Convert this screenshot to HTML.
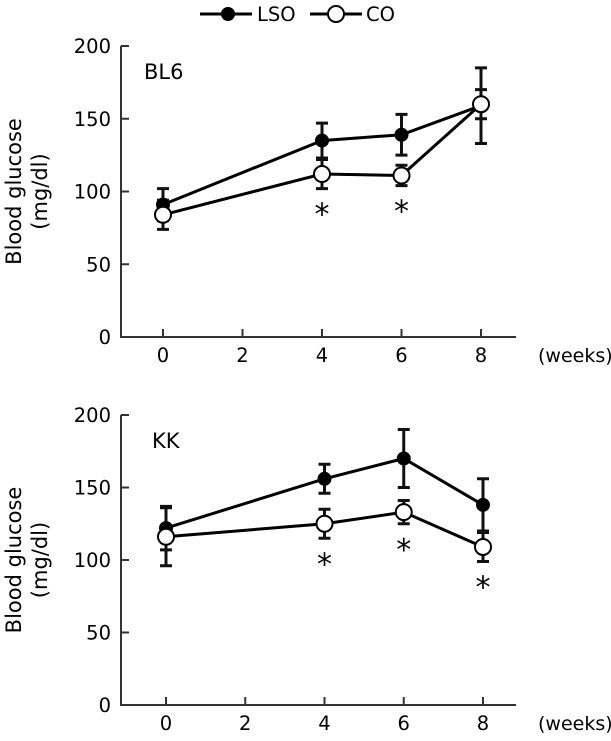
<!DOCTYPE html>
<html><head><meta charset="utf-8"><style>
body{margin:0;background:#fff;}
svg text{font-family:"DejaVu Sans","Liberation Sans",sans-serif;fill:#000;}
</style></head><body>
<svg id="c" width="611" height="736" xmlns="http://www.w3.org/2000/svg"></svg>
<script>
const weeks=[0,4,6,8];
const xTicks=[0,2,4,6,8];
const yTicks=[0,50,100,150,200];
const bl6Lso=[91,135,139,159];
const bl6LsoErr=[11,12,14,26];
const bl6Co=[84,112,111,160];
const bl6CoErr=[10,10,7,10];
const bl6Stars=[false,true,true,false];
const kkLso=[122,156,170,138];
const kkLsoErr=[15,10,20,18];
const kkCo=[116,125,133,109];
const kkCoErr=[20,10,8,10];
const kkStars=[false,true,true,true];

const svg=document.getElementById('c');
const NS='http://www.w3.org/2000/svg';
function mk(t,a,p){const e=document.createElementNS(NS,t);for(const k in a)e.setAttribute(k,a[k]);(p||svg).appendChild(e);return e;}

function panel(name,label,y0,y200,x0,x8,lso,lsoE,co,coE,stars){
  const g=mk('g',{});
  
  
  const ys=v=>y0-(v/200)*(y0-y200);
  const xs=w=>x0+(w/8)*(x8-x0);
  const ax=mk('path',{d:`M121 ${y200} V${y0} H516`,stroke:'#333',fill:'none','stroke-width':2},g);
  
  
  yTicks.forEach(v=>{
    mk('line',{x1:121,x2:129,y1:ys(v),y2:ys(v),stroke:'#333','stroke-width':2},g);
    const t=mk('text',{x:111,y:ys(v)+7,'text-anchor':'end','font-size':19.5},g);
    t.textContent=v;
    
    
  });
  xTicks.forEach(w=>{
    mk('line',{x1:xs(w),x2:xs(w),y1:y0,y2:y0-8,stroke:'#333','stroke-width':2},g);
    const t=mk('text',{x:xs(w),y:y0+25,'text-anchor':'middle','font-size':19.5},g);
    t.textContent=w;
    
    
  });
  const wl=mk('text',{x:538,y:y0+25,'font-size':19},g);wl.textContent='(weeks)';
  
  
  const yt=mk('text',{transform:`translate(21 ${(y0+y200)/2}) rotate(-90)`,'text-anchor':'middle','font-size':21},g);
  yt.textContent='Blood glucose';
  
  
  const yt2=mk('text',{transform:`translate(47 ${(y0+y200)/2}) rotate(-90)`,'text-anchor':'middle','font-size':21},g);
  yt2.textContent='(mg/dl)';
  
  
  const pl=mk('text',{x:label.x,y:y200+33,'font-size':21},g);pl.textContent=label.t;
  
  
  [[co,coE,'co'],[lso,lsoE,'lso']].forEach(([vals,errs,s])=>{
    vals.forEach((v,i)=>{
      const x=xs(weeks[i]);
      const e=mk('path',{d:`M${x} ${ys(v-errs[i])} V${ys(v+errs[i])} M${x-6} ${ys(v-errs[i])} H${x+6} M${x-6} ${ys(v+errs[i])} H${x+6}`,stroke:'#111','stroke-width':3,fill:'none'},g);
      
      
    });
  });
  [[co,'co'],[lso,'lso']].forEach(([vals,s])=>{
    const l=mk('polyline',{points:vals.map((v,i)=>xs(weeks[i])+','+ys(v)).join(' '),stroke:'#000','stroke-width':3,fill:'none'},g);
    
    
  });
  lso.forEach((v,i)=>{
    const c=mk('circle',{cx:xs(weeks[i]),cy:ys(v),r:7,fill:'#000'},g);
    
    
  });
  co.forEach((v,i)=>{
    const c=mk('circle',{cx:xs(weeks[i]),cy:ys(v),r:8,fill:'#fff',stroke:'#000','stroke-width':2},g);
    
    
    if(stars[i]){
      const st=mk('text',{x:xs(weeks[i]),y:ys(co[i]-coE[i])+36,'text-anchor':'middle','font-size':30},g);
      st.textContent='*';
      
      
    }
  });
}
panel('bl6',{t:'BL6',x:144},337,46,163,481,bl6Lso,bl6LsoErr,bl6Co,bl6CoErr,bl6Stars);
panel('kk',{t:'KK',x:152},705,415,166,483,kkLso,kkLsoErr,kkCo,kkCoErr,kkStars);

const lg=mk('g',{});


mk('line',{x1:200,x2:252,y1:14,y2:14,stroke:'#000','stroke-width':3},lg);
mk('circle',{cx:228,cy:14,r:7,fill:'#000'},lg);
const t1=mk('text',{x:257,y:21,'font-size':19.5},lg);t1.textContent='LSO';


mk('line',{x1:310,x2:362,y1:14,y2:14,stroke:'#000','stroke-width':3},lg);
mk('circle',{cx:336,cy:14,r:8,fill:'#fff',stroke:'#000','stroke-width':2},lg);
const t2=mk('text',{x:366,y:21,'font-size':19.5},lg);t2.textContent='CO';


</script>
</body></html>
